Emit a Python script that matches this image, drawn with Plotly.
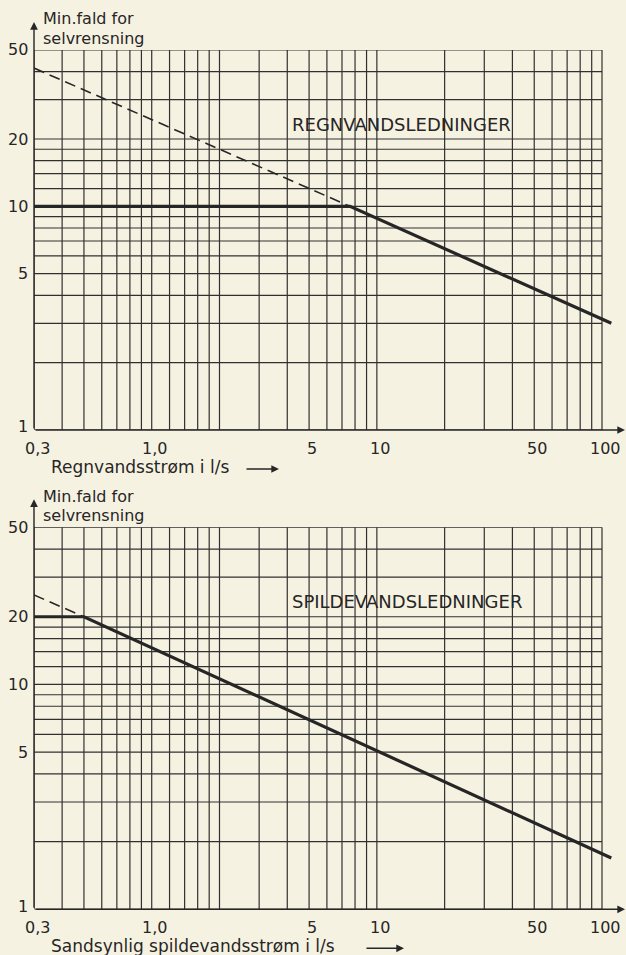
import math
import plotly.graph_objects as go

# ---------------- data ----------------
X_GRID = [0.3, 0.4, 0.5, 0.6, 0.7, 0.8, 0.9, 1.0, 1.2, 1.4, 1.6, 1.8, 2, 3, 4, 5,
          6, 7, 8, 9, 10, 20, 30, 40, 50, 60, 70, 80, 90, 100]
Y_GRID = [1, 2, 3, 4, 5, 6, 7, 8, 9, 10, 12, 14, 16, 18, 20, 30, 40, 50]

X_TICKS = [0.3, 1.0, 5, 10, 50, 100]
X_TICKTEXT = ["0,3", "1,0", "5", "10", "50", "100"]
Y_TICKS = [1, 5, 10, 20, 50]
Y_TICKTEXT = ["1", "5", "10", "20", "50"]

# Regnvandsledninger (top panel)
REGN_SOLID_X = [0.3, 7.6, 110]
REGN_SOLID_Y = [10, 10, 3.0]
REGN_DASH_X = [0.3, 7.6]
REGN_DASH_Y = [41.5, 10]

# Spildevandsledninger (bottom panel)
SPILD_SOLID_X = [0.3, 0.5, 110]
SPILD_SOLID_Y = [20, 20, 1.69]
SPILD_DASH_X = [0.3, 0.5]
SPILD_DASH_Y = [25, 20]

PANEL_LABELS = ["REGNVANDSLEDNINGER", "SPILDEVANDSLEDNINGER"]
X_TITLES = ["Regnvandsstrøm i l/s", "Sandsynlig spildevandsstrøm i l/s"]
Y_TITLE_LINES = ["Min.fald for", "selvrensning"]

# ---------------- layout geometry (pixels) ----------------
W, H = 626, 955
BG = "#f6f2e2"
INK = "#262626"
GRIDC = "#303030"
FONT = "DejaVu Sans"

X_LEFT, X_RIGHT = 34, 602          # px of x=0.3 and x=100
X_AXIS_END = 626                   # plot domain right edge (room for overshoot)
PANELS = [  # (py of y=50, py of y=1)
    (50, 430),
    (527.3, 909.3),
]
X_ARROWS = [(245, 279), (365, 404)]

xmin_log = math.log10(X_GRID[0])
xmax_log = math.log10(X_GRID[-1])
ppd_x = (X_RIGHT - X_LEFT) / (xmax_log - xmin_log)
x_range = [xmin_log, xmin_log + (X_AXIS_END - X_LEFT) / ppd_x]
y_range = [math.log10(Y_GRID[0]), math.log10(Y_GRID[-1])]


def px(xp):
    return xp / W


def py(yp):
    return 1 - yp / H


fig = go.Figure()

curves = [
    (REGN_SOLID_X, REGN_SOLID_Y, REGN_DASH_X, REGN_DASH_Y),
    (SPILD_SOLID_X, SPILD_SOLID_Y, SPILD_DASH_X, SPILD_DASH_Y),
]

annotations = []
for i, (top, bot) in enumerate(PANELS):
    sfx = "" if i == 0 else str(i + 1)
    xa, ya = "x" + sfx, "y" + sfx
    # vertical grid lines
    vx, vy = [], []
    for xv in X_GRID:
        vx += [xv, xv, None]
        vy += [Y_GRID[0], Y_GRID[-1], None]
    fig.add_trace(go.Scatter(x=vx, y=vy, mode="lines", xaxis=xa, yaxis=ya,
                             line=dict(color=GRIDC, width=1.2), hoverinfo="skip",
                             showlegend=False))
    # horizontal grid lines
    hx, hy = [], []
    for yv in Y_GRID:
        hx += [X_GRID[0], X_GRID[-1], None]
        hy += [yv, yv, None]
    fig.add_trace(go.Scatter(x=hx, y=hy, mode="lines", xaxis=xa, yaxis=ya,
                             line=dict(color=GRIDC, width=1.2), hoverinfo="skip",
                             showlegend=False))
    sx, sy, dx, dy = curves[i]
    fig.add_trace(go.Scatter(x=dx, y=dy, mode="lines", xaxis=xa, yaxis=ya,
                             line=dict(color=INK, width=1.6, dash="11px,6px"),
                             showlegend=False))
    fig.add_trace(go.Scatter(x=sx, y=sy, mode="lines", xaxis=xa, yaxis=ya,
                             line=dict(color=INK, width=3.2),
                             showlegend=False))

    fig.layout["xaxis" + sfx] = dict(
        type="log", range=x_range, domain=[px(X_LEFT), px(X_AXIS_END)],
        anchor=ya, showgrid=False, zeroline=False, showline=False,
        showticklabels=False, ticks="", automargin=False, fixedrange=True)
    fig.layout["yaxis" + sfx] = dict(
        type="log", range=y_range, domain=[py(bot), py(top)],
        anchor=xa, showgrid=False, zeroline=False, showline=False,
        showticklabels=False, ticks="", automargin=False, fixedrange=True)

    # x tick labels
    for v, t in zip(X_TICKS, X_TICKTEXT):
        annotations.append(dict(xref=xa, yref="paper", x=math.log10(v), y=py(bot + 18),
                                xanchor="center", yanchor="middle", xshift=3,
                                text=t, showarrow=False,
                                font=dict(family=FONT, size=16, color=INK)))
    # y tick labels
    for v, t in zip(Y_TICKS, Y_TICKTEXT):
        annotations.append(dict(xref="paper", yref=ya, x=px(30), y=math.log10(v),
                                xanchor="right", yanchor="middle",
                                yshift=3 if v == Y_GRID[0] else 0,
                                text=t, showarrow=False,
                                font=dict(family=FONT, size=16, color=INK)))
    # x axis arrow
    annotations.append(dict(xref="paper", yref="paper", x=px(625), y=py(bot),
                            ax=X_LEFT - 625, ay=0, text="", showarrow=True,
                            arrowhead=2, arrowsize=1.1, arrowwidth=1.4,
                            arrowcolor=INK))
    # y axis arrow
    tip = top - 28
    annotations.append(dict(xref="paper", yref="paper", x=px(X_LEFT), y=py(tip),
                            ax=0, ay=(bot - tip), text="", showarrow=True,
                            arrowhead=2, arrowsize=1.1, arrowwidth=1.4,
                            arrowcolor=INK))
    # y title (two lines)
    for k, line in enumerate(Y_TITLE_LINES):
        annotations.append(dict(xref="paper", yref="paper", x=px(41),
                                y=py(top - 31 + 19 * k),
                                xanchor="left", yanchor="middle",
                                text=line, showarrow=False,
                                font=dict(family=FONT, size=16, color=INK)))
    # panel label
    annotations.append(dict(xref="paper", yref="paper", x=px(290), y=py(top + 74),
                            xanchor="left", yanchor="middle",
                            text=PANEL_LABELS[i], showarrow=False,
                            font=dict(family=FONT, size=18, color=INK)))
    # x title
    t_y = bot + 37
    annotations.append(dict(xref="paper", yref="paper", x=px(49), y=py(t_y),
                            xanchor="left", yanchor="middle",
                            text=X_TITLES[i], showarrow=False,
                            font=dict(family=FONT, size=17, color=INK)))
    a0, a1 = X_ARROWS[i]
    annotations.append(dict(xref="paper", yref="paper", x=px(a1), y=py(t_y + 2),
                            ax=a0 - a1, ay=0, text="", showarrow=True,
                            arrowhead=2, arrowsize=1.1, arrowwidth=1.4,
                            arrowcolor=INK))

fig.update_layout(
    width=W, height=H,
    margin=dict(l=0, r=0, t=0, b=0, pad=0, autoexpand=False),
    paper_bgcolor=BG, plot_bgcolor="rgba(0,0,0,0)",
    annotations=annotations,
    showlegend=False,
    font=dict(family=FONT, color=INK),
)

fig.write_html(
    "out.html",
    config={"displayModeBar": False},
    post_script="document.body.style.margin='0';"
                "document.body.style.background='" + BG + "';",
)
